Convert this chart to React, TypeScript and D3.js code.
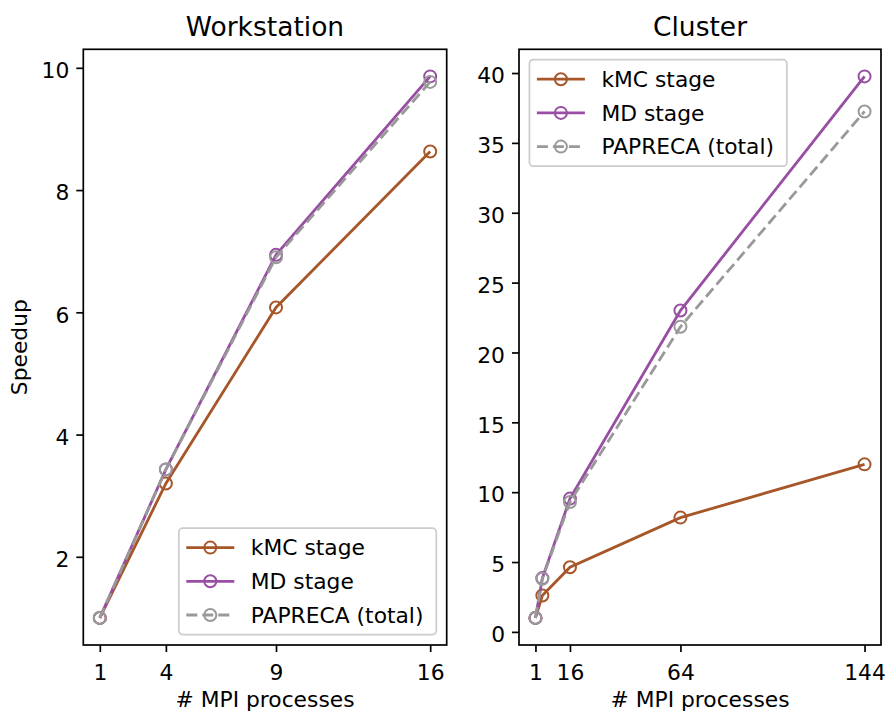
import * as d3 from "d3";
import { useEffect, useRef } from "react";

// workstation panel
const wsProcs = [1, 4, 9, 16];
const wsKmc = [1.0, 3.2, 6.08, 8.63];
const wsMd = [1.0, 3.43, 6.94, 9.86];
const wsTotal = [1.0, 3.43, 6.9, 9.77];
const wsYTicks = [2, 4, 6, 8, 10];

// cluster panel
const clProcs = [1, 4, 16, 64, 144];
const clTicks = [1, 16, 64, 144];
const clKmc = [1.0, 2.6, 4.63, 8.18, 11.99];
const clMd = [1.0, 3.85, 9.54, 23.0, 39.76];
const clTotal = [1.0, 3.8, 9.3, 21.84, 37.25];
const clYTicks = [0, 5, 10, 15, 20, 25, 30, 35, 40];

const seriesNames = ["kMC stage", "MD stage", "PAPRECA (total)"];
const colors = ["#a65628", "#984ea3", "#999999"];
const dashes = [null, null, "11,5"];

const W = 887;
const H = 713;
const FONT = "DejaVu Sans, sans-serif";
const FS = "21.8px";

// matplotlib-like 5% margin
const padded = (vals: number[]) => {
	const [lo, hi] = d3.extent(vals) as [number, number];
	const p = (hi - lo) * 0.05;
	return [lo - p, hi + p];
};

const drawPanel = (svg, opts) => {
	const { left, right, top, bottom, procs, series, xTicks, yTicks, title, legendLoc, ylabel } = opts;

	const x = d3.scaleLinear().domain(padded(procs)).range([left, right]);
	const y = d3.scaleLinear().domain(padded(series.flat())).range([bottom, top]);

	const g = svg.append("g");

	// lines and markers
	series.forEach((vals, i) => {
		const pts = procs.map((p, j) => [p, vals[j]]);
		const line = d3.line().x(d => x(d[0])).y(d => y(d[1]));
		g.append("path")
			.attr("d", line(pts))
			.attr("fill", "none")
			.attr("stroke", colors[i])
			.attr("stroke-width", 2.8)
			.attr("stroke-dasharray", dashes[i]);
		g.selectAll(null)
			.data(pts)
			.enter()
			.append("circle")
			.attr("cx", d => x(d[0]))
			.attr("cy", d => y(d[1]))
			.attr("r", 6)
			.attr("fill", "none")
			.attr("stroke", colors[i])
			.attr("stroke-width", 2);
	});

	// axes
	const xAxis = g.append("g")
		.attr("transform", `translate(0, ${bottom})`)
		.call(d3.axisBottom(x).tickValues(xTicks).tickSize(7).tickSizeOuter(0).tickFormat(d3.format("d")));
	xAxis.select(".domain").remove();
	xAxis.selectAll("line").attr("stroke-width", 1.7);
	xAxis.selectAll("text").attr("dy", null).attr("y", 35)
		.style("font-family", FONT).style("font-size", FS).attr("fill", "#000");

	const yAxis = g.append("g")
		.attr("transform", `translate(${left}, 0)`)
		.call(d3.axisLeft(y).tickValues(yTicks).tickSize(7).tickSizeOuter(0).tickPadding(7));
	yAxis.select(".domain").remove();
	yAxis.selectAll("line").attr("stroke-width", 1.7);
	yAxis.selectAll("text").attr("dy", "0.45em")
		.style("font-family", FONT).style("font-size", FS).attr("fill", "#000");

	// frame
	g.append("rect")
		.attr("x", left).attr("y", top)
		.attr("width", right - left).attr("height", bottom - top)
		.attr("fill", "none").attr("stroke", "#000").attr("stroke-width", 1.7);

	// title and labels
	const cx = (left + right) / 2;
	g.append("text").attr("x", cx).attr("y", 36).attr("text-anchor", "middle")
		.style("font-family", FONT).style("font-size", "26.5px").text(title);
	g.append("text").attr("x", cx).attr("y", 707).attr("text-anchor", "middle")
		.style("font-family", FONT).style("font-size", FS).text("# MPI processes");
	if (ylabel) {
		g.append("text").attr("transform", `translate(26.5, ${(top + bottom) / 2}) rotate(-90)`)
			.attr("text-anchor", "middle")
			.style("font-family", FONT).style("font-size", FS).text(ylabel);
	}

	// legend
	const lw = 257.5, lh = 106.5, pad = 10.4;
	const lx = legendLoc === "lower right" ? right - pad - lw : left + pad;
	const ly = legendLoc === "lower right" ? bottom - pad - lh : top + pad;
	const leg = g.append("g").attr("transform", `translate(${lx}, ${ly})`);
	leg.append("rect").attr("width", lw).attr("height", lh).attr("rx", 4)
		.attr("fill", "#fff").attr("fill-opacity", 0.8)
		.attr("stroke", "#cccccc").attr("stroke-width", 1.7);
	seriesNames.forEach((name, i) => {
		const ry = 19.5 + i * 33.7;
		leg.append("line").attr("x1", 7.5).attr("x2", 55.5).attr("y1", ry).attr("y2", ry)
			.attr("stroke", colors[i]).attr("stroke-width", 2.8).attr("stroke-dasharray", dashes[i]);
		leg.append("circle").attr("cx", 31.5).attr("cy", ry).attr("r", 6)
			.attr("fill", "none").attr("stroke", colors[i]).attr("stroke-width", 2);
		leg.append("text").attr("x", 72).attr("y", ry).attr("dy", "0.36em")
			.style("font-family", FONT).style("font-size", FS).text(name);
	});
};

const App = () => {
	const chartRef = useRef(null);

	useEffect(() => {
		const svg = d3.select(chartRef.current);
		svg.selectAll("*").remove();

		drawPanel(svg, {
			left: 83.3, right: 446.7, top: 49.3, bottom: 645,
			procs: wsProcs, series: [wsKmc, wsMd, wsTotal],
			xTicks: wsProcs, yTicks: wsYTicks,
			title: "Workstation", legendLoc: "lower right", ylabel: "Speedup"
		});
		drawPanel(svg, {
			left: 519, right: 881, top: 49.3, bottom: 645,
			procs: clProcs, series: [clKmc, clMd, clTotal],
			xTicks: clTicks, yTicks: clYTicks,
			title: "Cluster", legendLoc: "upper left", ylabel: null
		});
	}, []);

	return (
		<svg ref={chartRef} width={W} height={H}
			style={{ position: "absolute", left: 0, top: 0, background: "#fff" }}></svg>
	);
};

export default App;
